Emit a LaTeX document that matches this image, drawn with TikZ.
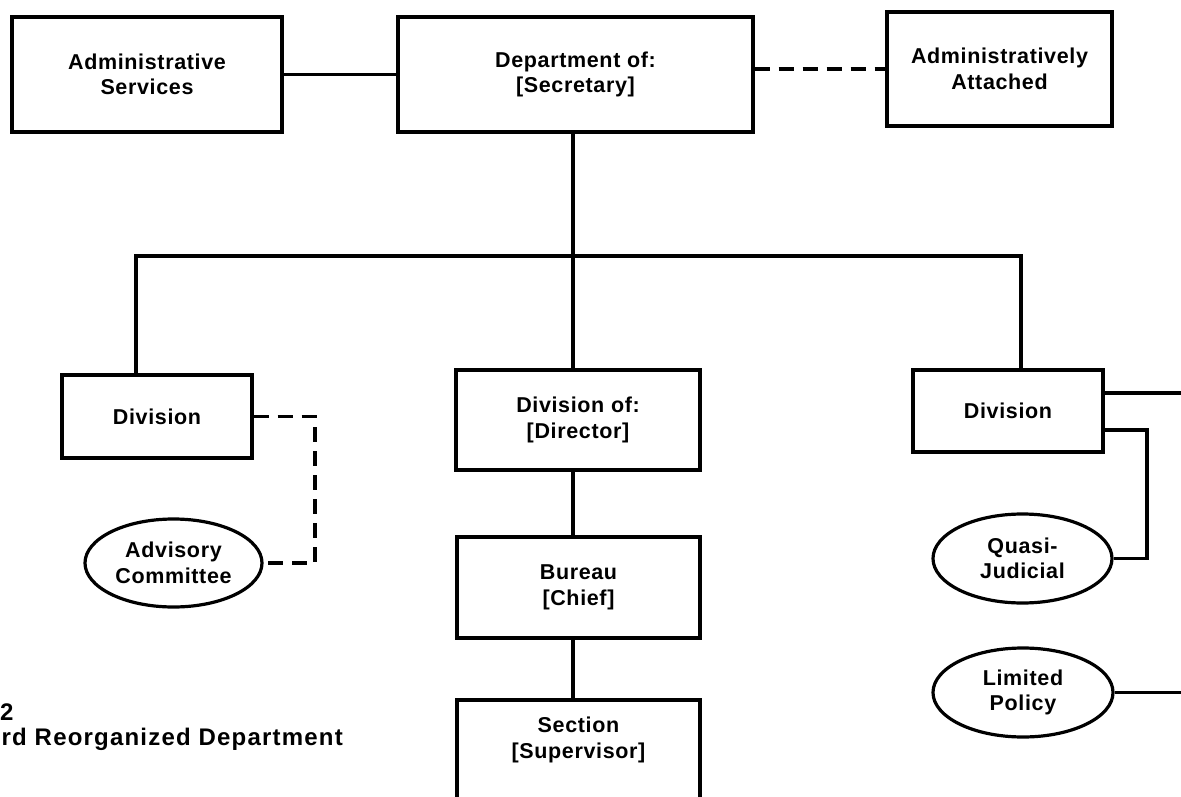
\documentclass[tikz,border=0pt]{standalone}
\usepackage{fontspec}
\setmainfont{Liberation Sans}[LetterSpace=3]
\usetikzlibrary{shapes.geometric,calc}
\begin{document}
\begin{tikzpicture}[x=1pt,y=-1pt,
  every node/.style={font=\bfseries\fontsize{21.5}{25.5}\selectfont, align=center, inner sep=0pt},
  box/.style={draw, rectangle, line width=3.2pt},
  oval/.style={draw, ellipse, line width=3.2pt},
  conn/.style={line width=3.2pt},
  dconn/.style={line width=3.2pt, dash pattern=on 15pt off 9pt},
  titletext/.style={font=\bfseries\fontsize{24}{28}\selectfont\addfontfeatures{LetterSpace=5}}]
\useasboundingbox (0,0) rectangle (1181,797);
\begin{scope}
\clip (0,0) rectangle (1181,797);
% boxes
\node[box, minimum width=270pt, minimum height=115pt] (admin) at (147,74.5) {Administrative\\Services};
\node[box, minimum width=355pt, minimum height=115pt] (dept) at (575.5,74.5) {Department of:\\{[Secretary]}};
\node[box, minimum width=225pt, minimum height=114pt] (attached) at (999.5,69) {Administratively\\Attached};
\node[box, minimum width=190pt, minimum height=83pt] (divL) at (157,416.5) {Division};
\node[box, minimum width=244pt, minimum height=100pt] (divC) at (578,420) {Division of:\\{[Director]}};
\node[box, minimum width=190pt, minimum height=82pt] (divR) at (1008,411) {Division};
\node[box, minimum width=243pt, minimum height=101pt] (bureau) at (578.5,587.5) {Bureau\\{[Chief]}};
\node[box, minimum width=243pt, minimum height=130pt] (section) at (578.5,765) {};
\node (sectiontext) at (578.5,740) {Section\\{[Supervisor]}};
% ovals
\node[oval, minimum width=177pt, minimum height=88pt] (advisory) at (173.5,563) {Advisory\\Committee};
\node[oval, minimum width=179pt, minimum height=89pt] (quasi) at (1022.5,558.5) {Quasi-\\Judicial};
\node[oval, minimum width=180pt, minimum height=89pt] (limited) at (1023,692.5) {Limited\\Policy};
% coordinates
\coordinate (trunk) at (573,256);
\coordinate (busL) at (136,256);
\coordinate (busR) at (1021,256);
\coordinate (advc) at (315,563);
\coordinate (redge1) at (1195,393);
\coordinate (qc) at (1147,430);
\coordinate (redge2) at (1195,690);
% connectors
\draw[conn] (admin.east) -- (admin.east -| dept.west);
\draw[dconn] (attached.west -| dept.east) -- (attached.west);
\draw[conn] (dept.south -| trunk) -- (trunk |- divC.north);
\draw[conn] (busL |- divL.north) -- (busL) -- (busR) -- (busR |- divR.north);
\draw[conn] (divC.south -| trunk) -- (bureau.north -| trunk);
\draw[conn] (bureau.south -| trunk) -- (section.north -| trunk);
\draw[dconn] (divL.east) -| (advc) -- (advisory.east);
\draw[conn] (divR.east |- redge1) -- (redge1);
\draw[conn] (divR.east |- qc) -- (qc) |- (quasi.east);
\draw[conn] (limited.east) -- (redge2 |- limited.east);
% caption fragments
\node[titletext, anchor=base west] (fignum) at (0,720) {2};
\node[titletext, anchor=base east] (figtitle) at (343,745) {rd Reorganized Department};
\end{scope}
\end{tikzpicture}
\end{document}
